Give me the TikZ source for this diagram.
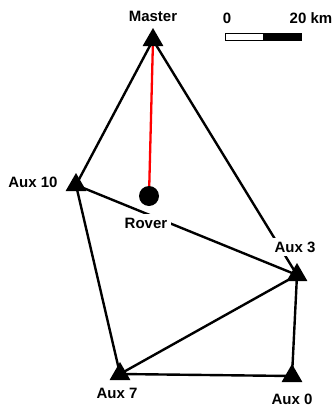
\documentclass[tikz,border=0pt]{standalone}
\usepackage{fontspec}
\setmainfont{Liberation Sans}
\usetikzlibrary{shapes.geometric,backgrounds}
\begin{document}
\begin{tikzpicture}[x=1pt,y=-1pt,
  station/.style={regular polygon,regular polygon sides=3,fill=black,
    minimum size=24pt,inner sep=0pt},
  rover/.style={circle,fill=black,minimum size=20pt,inner sep=0pt},
  lbl/.style={fill=white,inner sep=4pt,font=\fontsize{15}{18}\selectfont\bfseries},
  plain/.style={inner sep=0pt,font=\fontsize{15}{18}\selectfont\bfseries},
  link/.style={line width=2.4pt,black},
  ray/.style={line width=2.3pt,red}]
\useasboundingbox (0,0) rectangle (335,407);

% stations and rover
\node[station] (master) at (153,40) {};
\node[station] (aux10) at (76,185) {};
\node[station] (aux3) at (297,275) {};
\node[station] (aux7) at (120,374) {};
\node[station] (aux0) at (292,376) {};
\node[rover] (rover) at (149,196) {};

% labels
\node[plain] (lmaster) at (153,16) {Master};
\node[plain] (laux10) at (33,182) {Aux 10};
\node[lbl] (lrover) at (146,223) {Rover};
\node[lbl] (laux3) at (295,247) {Aux 3};
\node[plain] (laux7) at (117,393) {Aux 7};
\node[plain] (laux0) at (292,399) {Aux 0};

% baselines
\begin{pgfonlayer}{background}
\draw[link] (master.center) -- (aux10.center);
\draw[link] (master.center) -- (aux3.center);
\draw[link] (aux10.center) -- (aux3.center);
\draw[link] (aux10.center) -- (aux7.center);
\draw[link] (aux7.center) -- (aux3.center);
\draw[link] (aux7.center) -- (aux0.center);
\draw[link] (aux0.center) -- (aux3.center);
\draw[ray] (master.center) -- (rover.center);
\end{pgfonlayer}

% scale bar
\node[plain] (s0) at (227,18) {0};
\node[plain] (s20) at (311,18) {20 km};
\draw[line width=1pt,fill=white] (225,33) rectangle (263,40);
\draw[line width=1pt,fill=black] (263,33) rectangle (301,40);
\end{tikzpicture}
\end{document}
